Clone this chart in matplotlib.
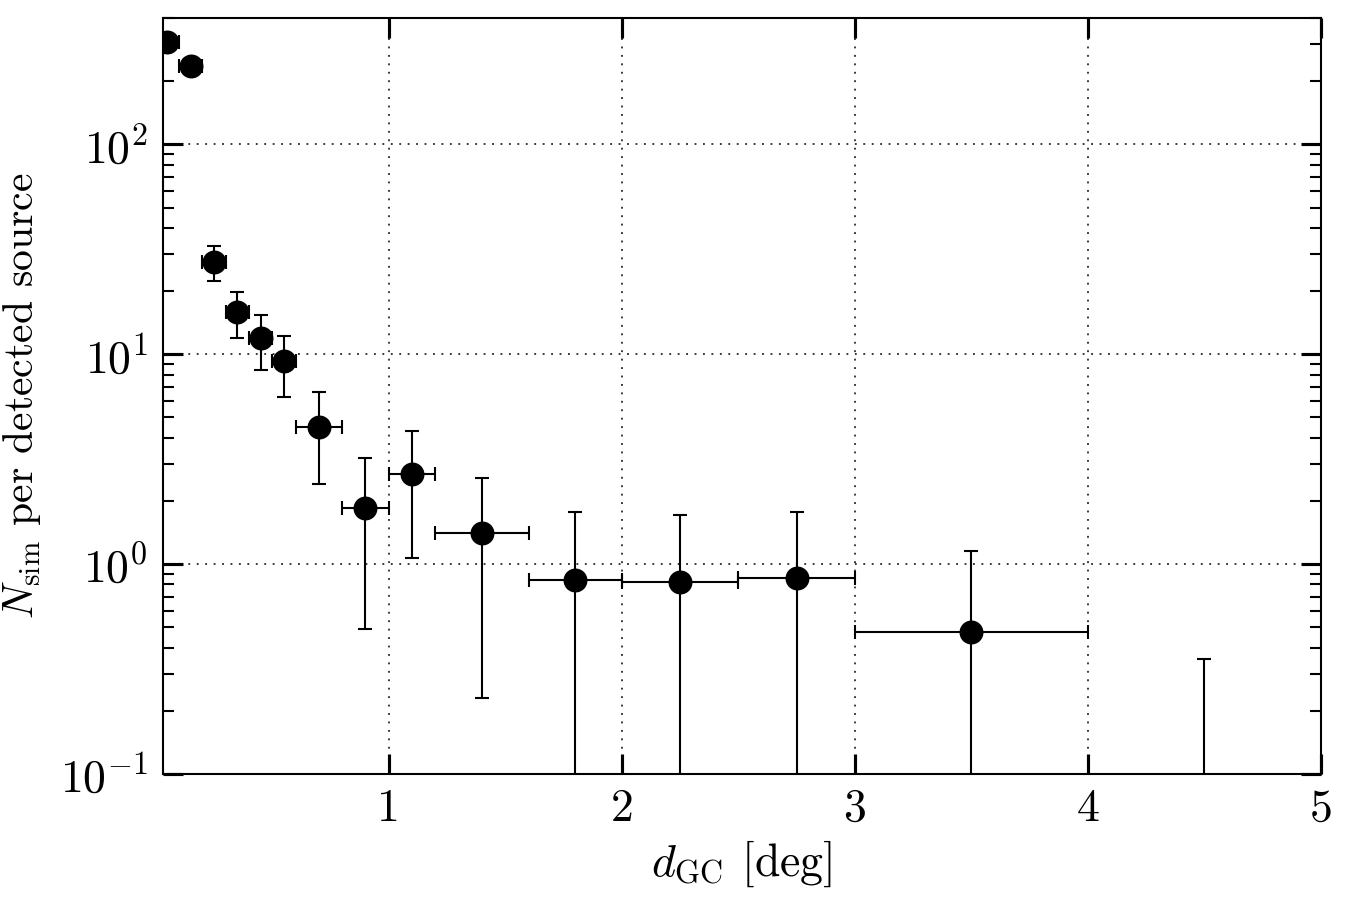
import matplotlib
matplotlib.use("Agg")
import matplotlib.pyplot as plt
from matplotlib.ticker import LogLocator, NullLocator

# data
x_centers = [0.05, 0.15, 0.25, 0.35, 0.45, 0.55, 0.70, 0.90, 1.10, 1.40,
             1.80, 2.25, 2.75, 3.50, 4.50]
x_err = [0.05, 0.05, 0.05, 0.05, 0.05, 0.05, 0.10, 0.10, 0.10, 0.20,
         0.20, 0.25, 0.25, 0.50, 0.50]
n_sim = [308.0, 236.0, 27.5, 15.9, 11.9, 9.24, 4.51, 1.85, 2.70, 1.40,
         0.842, 0.823, 0.86, 0.475, 0.0]
n_err = [20.0, 15.0, 5.2, 3.9, 3.45, 3.0, 2.1, 1.36, 1.63, 1.17,
         0.92, 0.90, 0.92, 0.685, 0.353]

# style: classic look, computer modern
plt.rcParams["font.family"] = "serif"
plt.rcParams["font.serif"] = ["cmr10"]
plt.rcParams["mathtext.fontset"] = "cm"
plt.rcParams["axes.formatter.use_mathtext"] = True
plt.rcParams["font.size"] = 22

fig = plt.figure(figsize=(9, 6), dpi=150)
ax = fig.add_axes([0.1205, 0.14, 0.858, 0.84])

ax.errorbar(x_centers, n_sim, xerr=x_err, yerr=n_err, fmt="o", color="k",
            ecolor="k", markersize=10.5, elinewidth=1.0, capsize=3.5,
            capthick=1.0)

ax.set_yscale("log")
ax.set_xlim(0.03, 5)
ax.set_ylim(0.1, 400)
ax.set_xticks([1, 2, 3, 4, 5])
ax.set_xticklabels(["1", "2", "3", "4", "5"])
ax.xaxis.set_minor_locator(NullLocator())
ax.yaxis.set_major_locator(LogLocator(base=10))
ax.yaxis.set_minor_locator(LogLocator(base=10, subs=range(2, 10)))

ax.tick_params(which="both", direction="in", top=True, right=True)
ax.tick_params(which="major", length=9.5, width=1.5, pad=7)
ax.tick_params(which="minor", length=5.5, width=1.0)
for s in ax.spines.values():
    s.set_linewidth(1.0)

ax.grid(True, which="major", color="k", linestyle=(0, (1, 3.5)), linewidth=0.9, alpha=0.8)

ax.set_xlabel(r"$d_{\rm GC}$ [deg]", labelpad=4)
ax.set_ylabel(r"$N_{\rm sim}$ per detected source", fontsize=20)
ax.yaxis.set_label_coords(-0.103, 0.5)

fig.savefig("out.png", dpi=150)
